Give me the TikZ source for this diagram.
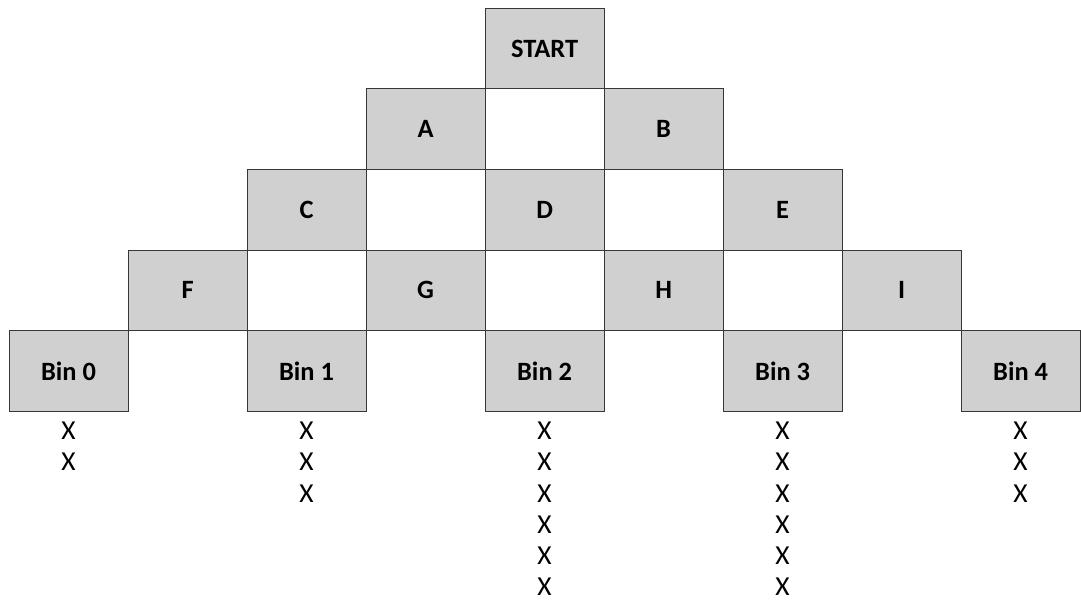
\documentclass[tikz,border=0pt]{standalone}
\usepackage{fontspec}
\setmainfont{Carlito}
\usepackage{tikz}
\usetikzlibrary{positioning}
\definecolor{cellgray}{RGB}{208,208,208}
\definecolor{celledge}{RGB}{55,55,55}
\tikzset{
cell/.style={draw=celledge,fill=cellgray,line width=0.7pt,minimum width=2.975cm,minimum height=2.015cm,
inner sep=0pt,outer sep=0pt,font=\fontsize{18.8}{22}\selectfont\bfseries},
tally/.style={inner sep=0pt,font=\fontsize{19.5}{23}\selectfont}
}
\begin{document}
\begin{tikzpicture}[node distance=0pt]
\useasboundingbox (-13.615,1.215) rectangle (13.41,-13.81);
\node[cell] (start) at (0,0) {START};
\node[cell,below left=of start] (a) {A};
\node[cell,below right=of start] (b) {B};
\node[cell,below left=of a] (c) {C};
\node[cell,below right=of a] (d) {D};
\node[cell,below right=of b] (e) {E};
\node[cell,below left=of c] (f) {F};
\node[cell,below right=of c] (g) {G};
\node[cell,below right=of d] (h) {H};
\node[cell,below right=of e] (i) {I};
\node[cell,below left=of f] (bin0) {Bin 0};
\node[cell,below right=of f] (bin1) {Bin 1};
\node[cell,below right=of g] (bin2) {Bin 2};
\node[cell,below right=of h] (bin3) {Bin 3};
\node[cell,below right=of i] (bin4) {Bin 4};
\foreach \b/\n in {0/2,1/3,2/6,3/6,4/3}
  \foreach \k in {1,...,\n}
    \node[tally] (x\b-\k) at ([yshift={-4.9mm-(\k-1)*7.8mm}]bin\b.south) {X};
\end{tikzpicture}
\end{document}
